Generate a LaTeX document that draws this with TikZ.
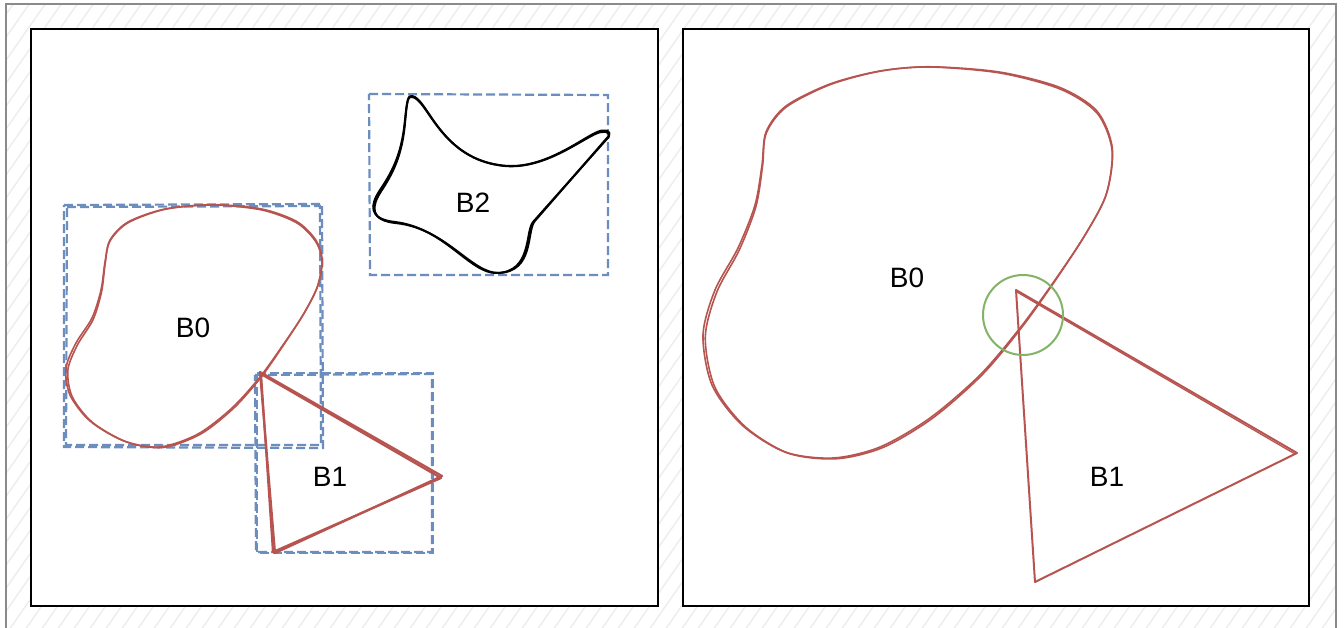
\documentclass[tikz,border=0pt]{standalone}
\usepackage{fontspec}
\setmainfont{Liberation Sans}
\definecolor{blobred}{HTML}{B85450}
\definecolor{boxblue}{HTML}{6C8EBF}
\definecolor{circgreen}{HTML}{82B366}
\definecolor{framegray}{HTML}{8A8A8A}
\definecolor{hatchgray}{HTML}{ECECEC}
\begin{document}
\begin{tikzpicture}[x=1pt,y=-1pt,
  redline/.style={draw=blobred, line width=1.6pt, line join=round},
  trithick/.style={draw=blobred, line width=2.2pt, line join=round},
  blackline/.style={draw=black, line width=2pt, line join=round},
  bluebox/.style={draw=boxblue, line width=2.2pt, dash pattern=on 9pt off 4pt},
  panel/.style={draw=black, line width=2.2pt, fill=white},
  hatch/.style={draw=hatchgray, line width=1.3pt},
  ring/.style={draw=circgreen, line width=2pt},
  lbl/.style={font=\fontsize{28}{31}\selectfont, text=black, inner sep=0pt}]
\useasboundingbox (0,0) rectangle (1344,627);
\clip (0,0) rectangle (1344,627);
\fill[white] (0,0) rectangle (1344,627);
% hatched background
\begin{scope}
  \clip (6,4) rectangle (1336,660);
  \foreach \i in {0,...,125} {
    \draw[hatch] (\i*16-460, 660) -- ++(460,-660);
  }
\end{scope}
\draw[draw=framegray, line width=2pt] (6,4) rectangle (1336,680);
% panels
\draw[panel] (31,29) rectangle (658,606);
\draw[panel] (683,29) rectangle (1309,606);

% ---------- left panel ----------
% blue dashed bounding boxes
\draw[bluebox] (64,205) -- (322,204) -- (323,448) -- (64,447) -- cycle;
\draw[bluebox] (67,207) -- (320,206) -- (321,445) -- (66,445) -- cycle;
\draw[bluebox] (257,373) -- (433,373) -- (433,553) -- (257,553) -- cycle;
\draw[bluebox] (255,375) -- (432,374) -- (432,552) -- (256,552) -- cycle;
\draw[bluebox] (369,94) -- (608,95) -- (608,275) -- (370,275) -- cycle;

% B0 blob (left)
\foreach \r/\dx in {0/0pt, 0.9/1.2pt} {
  \draw[redline, rotate around={\r:(194,326)}, xshift=\dx]
    plot[smooth cycle] coordinates {(213,205) (262,210) (297,223) (316,242) (322,262) (317,288) (303,315) (283,345) (260,377) (232,408) (198,434) (160,447) (124,441) (90,421) (70,395) (66,368) (76,343) (92,318) (101,290) (105,262) (110,240) (128,222) (165,209)};
}
% B1 triangle (left)
\draw[trithick] (260,372) -- (442,476) -- (275,553) -- cycle;
\draw[trithick] (261,374) -- (441,478) -- (273,552) -- cycle;
% B2 shape
\foreach \r/\dx in {0/0pt, 0.7/1pt} {
  \draw[blackline, rotate around={\r:(490,185)}, xshift=\dx]
    (412,96) .. controls (428,98) and (440,160) .. (505,166)
    .. controls (550,170) and (592,130) .. (603,132)
    .. controls (610,131) and (611,137) .. (606,140)
    -- (533,222)
    .. controls (525,232) and (532,272) .. (497,273)
    .. controls (470,274) and (445,228) .. (395,222)
    .. controls (368,219) and (370,205) .. (380,190)
    .. controls (395,168) and (402,150) .. (405,120)
    .. controls (407,100) and (408,95) .. (412,96) -- cycle;
}
\node[lbl] (b0l) at (193,328) {B0};
\node[lbl] (b1l) at (330,477) {B1};
\node[lbl] (b2l) at (473,203) {B2};

% ---------- right panel ----------
\foreach \r/\dx in {0/0pt, 0.6/1.5pt} {
  \draw[redline, rotate around={\r:(908,262)}, xshift=\dx]
    plot[smooth cycle] coordinates {(930,67) (1000,73) (1060,89) (1097,113) (1112,150) (1106,195) (1085,235) (1055,280) (1020,328) (980,375) (930,418) (880,447) (833,458) (785,452) (742,425) (712,385) (703,335) (715,290) (738,248) (755,205) (762,165) (766,132) (786,106) (830,84) (880,71)};
}
\draw[redline, line width=2pt] (1016,290) -- (1297,453) -- (1035,582) -- cycle;
\draw[redline, line width=1.3pt] (1017,292) -- (1295,454);
\draw[ring] (1023,315) circle [radius=40pt];
\node[lbl] (b0r) at (907,278) {B0};
\node[lbl] (b1r) at (1107,477) {B1};
\end{tikzpicture}
\end{document}
